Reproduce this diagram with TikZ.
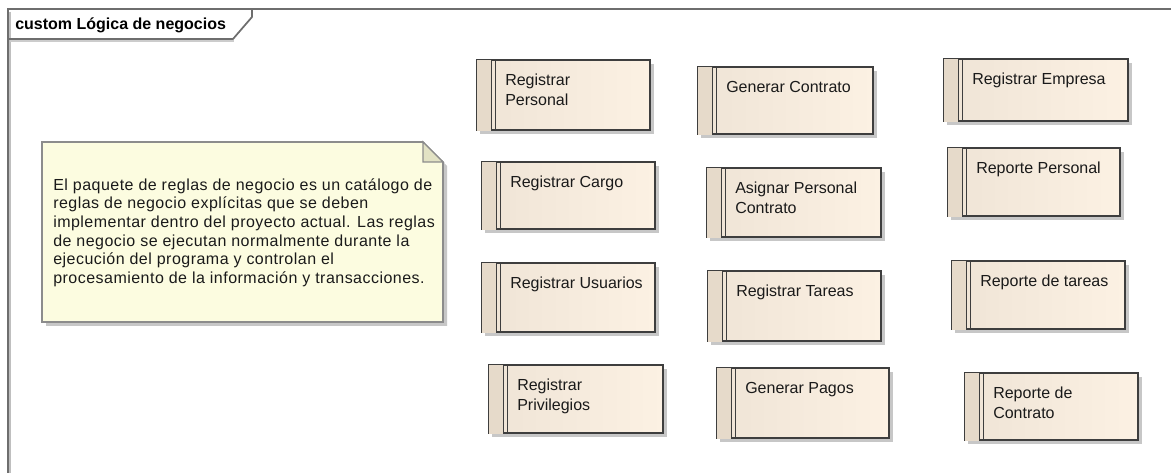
\documentclass[tikz,border=0pt]{standalone}
\usepackage{fontspec}
\setmainfont{Liberation Sans}
\usetikzlibrary{fit}
\definecolor{framec}{HTML}{6E6E6E}
\definecolor{bordc}{HTML}{3E3E3E}
\definecolor{stripc}{HTML}{E6DACA}
\definecolor{bodyl}{HTML}{EFE4D6}
\definecolor{bodyr}{HTML}{FCF1E3}
\definecolor{notec}{HTML}{FCFCE0}
\definecolor{noteb}{HTML}{8C8C8C}
\definecolor{foldc}{HTML}{E2E2C4}
\definecolor{shadc}{HTML}{9A9A9A}
\definecolor{textc}{HTML}{1A1A1A}
\tikzset{
  actbody/.style={draw=bordc, line width=1.1pt, inner sep=0pt,
    left color=bodyl, right color=bodyr, shading angle=90},
  divline/.style={draw=bordc, line width=0.9pt},
  lbl/.style={anchor=north west, inner sep=0pt, align=left, text=textc,
    font=\fontsize{12}{15}\selectfont},
  shad/.style={fill=shadc, opacity=0.55},
}
% activity box: name, x1, y1, x2, y2, label
\newcommand\actbox[6]{%
  \fill[shad] (#2+3,#3+4) rectangle (#4+4,#5+4);
  \node[actbody, fit={(#2,#3) (#4,#5)}] (#1) {};
  \fill[stripc] ([shift={(0.55pt,-0.55pt)}]#1.north west) rectangle ([xshift=11.6pt]#1.south west);
  \draw[divline] ([xshift=11.6pt]#1.north west) -- ([xshift=11.6pt]#1.south west);
  \draw[divline] ([xshift=14.2pt]#1.north west) -- ([xshift=14.2pt]#1.south west);
  \node[lbl] (#1-t) at (#2+28,#3+11) {\strut#6};
}
\begin{document}
\begin{tikzpicture}[x=0.75pt, y=-0.75pt]
\useasboundingbox (0,0) rectangle (1171,473);
\fill[white] (0,0) rectangle (1171,473);

% package frame and its name tab
\draw[framec, line width=1.6pt] (1171,9) -- (8,9) -- (8,473);
\draw[black!25, line width=0.8pt] (10,12) -- (10,473);
\draw[framec, line width=1.3pt] (8,9) -- (252,9) -- (252,17) -- (233,39) -- (8,39);
\draw[black!20, line width=0.8pt] (10,41) -- (234,41);
\node[anchor=base west, inner sep=0pt, font=\bfseries\fontsize{12}{14}\selectfont]
  (tabtext) at (15,30) {custom Lógica de negocios};

% note
\fill[shad] (46,146) -- (427,146) -- (447,166) -- (447,326) -- (46,326) -- cycle;
\node[draw=noteb, line width=1pt, fill=notec, inner sep=0pt,
  fit={(42,142) (443,322)}] (note) {};
\fill[white] (423,141) -- (444,141) -- (444,162) -- cycle;
\draw[noteb, line width=1pt] (423,142) -- (443,162);
\filldraw[fill=foldc, draw=noteb, line width=1pt] (423,142) -- (423,162) -- (443,162) -- cycle;
\node[anchor=north west, inner sep=0pt, align=left, text=textc,
  font=\fontsize{12}{14}\selectfont\addfontfeature{LetterSpace=3}]
  (notetext) at (53,177)
  {\strut El paquete de reglas de negocio es un catálogo de\\
   reglas de negocio explícitas que se deben\\
   implementar dentro del proyecto actual. Las reglas\\
   de negocio se ejecutan normalmente durante la\\
   ejecución del programa y controlan el\\
   procesamiento de la información y transacciones.};

% first column
\actbox{regpers}{477}{60}{650}{130}{Registrar\\Personal}
\actbox{regcargo}{482}{162}{655}{229}{Registrar Cargo}
\actbox{regusu}{482}{263}{655}{332}{Registrar Usuarios}
\actbox{regpriv}{489}{365}{663}{433}{Registrar\\Privilegios}
% second column
\actbox{gencont}{698}{67}{873}{134}{Generar Contrato}
\actbox{asigpers}{707}{168}{881}{237}{Asignar Personal\\Contrato}
\actbox{regtar}{708}{271}{881}{341}{Registrar Tareas}
\actbox{genpag}{717}{368}{889}{438}{Generar Pagos}
% third column
\actbox{regemp}{944}{59}{1128}{121}{Registrar Empresa}
\actbox{reppers}{948}{148}{1120}{216}{Reporte Personal}
\actbox{reptar}{952}{261}{1125}{329}{Reporte de tareas}
\actbox{repcont}{965}{373}{1138}{440}{Reporte de\\Contrato}
\end{tikzpicture}
\end{document}
